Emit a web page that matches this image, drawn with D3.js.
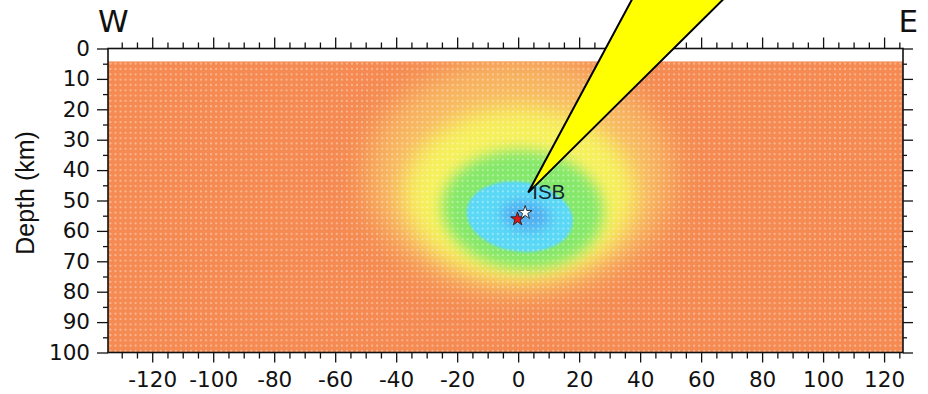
<!DOCTYPE html>
<html>
<head>
<meta charset="utf-8">
<script src="https://cdn.jsdelivr.net/npm/d3@7"></script>
<style>
  html, body { margin: 0; padding: 0; background: #fff; }
  svg { display: block; font-family: "DejaVu Sans", sans-serif; }
</style>
</head>
<body>
<svg id="chart" width="928" height="394"></svg>
<script>
// ---- section extents (km) ----
const distanceExtent = [-134.5, 126.2];
const depthExtent = [0, 100];
const gridTopDepth = 4.2;

// ---- axis ticks ----
const distanceTicks = [-120, -100, -80, -60, -40, -20, 0, 20, 40, 60, 80, 100, 120];
const distanceMinorTicks = [-130, -125, -115, -110, -105, -95, -90, -85, -75, -70, -65, -55, -50, -45,
  -35, -30, -25, -15, -10, -5, 5, 10, 15, 25, 30, 35, 45, 50, 55, 65, 70, 75, 85, 90, 95, 105, 110, 115, 125];
const depthTicks = [0, 10, 20, 30, 40, 50, 60, 70, 80, 90, 100];
const depthMinorTicks = [5, 15, 25, 35, 45, 55, 65, 75, 85, 95];

// ---- misfit surface contours (centre, half-widths in km, tilt in degrees) ----
const levelNames = ["outer", "yellow", "green", "cyan", "core"];
const levelX = [0.5, 0.5, 1.5, 0.5, 2.5];
const levelDepth = [42, 47.5, 53, 55.3, 55];
const levelRadiusX = [50, 38, 26.5, 17.5, 8];
const levelRadiusDepth = [38.5, 28.5, 19.5, 11.5, 5];
const levelTilt = [0, 0, 4, 8, 8];

// ---- grid search nodes ----
const gridStepX = 1.65;
const gridStepDepth = 1.75;

// ---- events and station ----
const eventNames = ["catalogue", "relocated"];
const eventX = [-0.2, 2.3];
const eventDepth = [56.1, 54.0];
const stationName = "ISB";
const stationX = 3.3;
const stationDepth = 47.4;
const beamEdgeX = [39.4, 71.1];
const beamEdgeDepth = [-20, -20];

// ---- styles ----
const fieldBase = "#f58b52";
const levelFill = ["#f8b862", "#f6f05c", "#84e86a", "#5ad8f6", "#4d9ff0"];
const levelOpacity = [1, 1, 1, 1, 0.7];
const levelBlur = [15, 11, 7, 0.8, 6];
const eventFill = ["#e01414", "#ffffff"];

const svg = d3.select("#chart");
const x = d3.scaleLinear().domain(distanceExtent).range([108, 903]);
const y = d3.scaleLinear().domain(depthExtent).range([48.5, 352.5]);

const frameBottom = y(depthExtent[1]), frameTop = y(depthExtent[0]);
const frameLeft = x(distanceExtent[0]), frameRight = x(distanceExtent[1]);

const defs = svg.append("defs");
defs.append("clipPath").attr("id", "field-clip")
  .append("rect")
  .attr("x", frameLeft).attr("y", y(gridTopDepth))
  .attr("width", frameRight - frameLeft)
  .attr("height", frameBottom - y(gridTopDepth));

levelNames.forEach((name, i) => {
  defs.append("filter").attr("id", "blur-" + name)
    .attr("x", "-60%").attr("y", "-60%").attr("width", "220%").attr("height", "220%")
    .append("feGaussianBlur").attr("stdDeviation", levelBlur[i]);
});

// ---- colour field ----
const field = svg.append("g").attr("clip-path", "url(#field-clip)");
field.append("rect")
  .attr("x", frameLeft).attr("y", y(gridTopDepth))
  .attr("width", frameRight - frameLeft)
  .attr("height", frameBottom - y(gridTopDepth))
  .attr("fill", fieldBase);

field.selectAll("ellipse.level")
  .data(levelNames.map((name, i) => ({ name, i })))
  .join("ellipse")
  .attr("class", "level")
  .attr("cx", d => x(levelX[d.i]))
  .attr("cy", d => y(levelDepth[d.i]))
  .attr("rx", d => x(levelX[d.i] + levelRadiusX[d.i]) - x(levelX[d.i]))
  .attr("ry", d => y(levelDepth[d.i] + levelRadiusDepth[d.i]) - y(levelDepth[d.i]))
  .attr("transform", d => `rotate(${levelTilt[d.i]},${x(levelX[d.i])},${y(levelDepth[d.i])})`)
  .attr("fill", d => levelFill[d.i])
  .attr("opacity", d => levelOpacity[d.i])
  .attr("filter", d => `url(#blur-${d.name})`);

// grid nodes drawn as faint light dots
const nodesX = d3.range(distanceExtent[0] + 0.8, distanceExtent[1], gridStepX);
const nodesDepth = d3.range(gridTopDepth + 0.8, depthExtent[1], gridStepDepth);
const nodes = [];
nodesDepth.forEach(dz => nodesX.forEach(dx => nodes.push([dx, dz])));
field.append("g").selectAll("circle")
  .data(nodes)
  .join("circle")
  .attr("cx", d => x(d[0]))
  .attr("cy", d => y(d[1]))
  .attr("r", 1.15)
  .attr("fill", "#fff")
  .attr("opacity", 0.36);

// ---- axes ----
const plainNumber = d => String(d);
function styleAxis(g) {
  g.select(".domain").remove();
  g.selectAll(".tick line").attr("stroke", "#111").attr("stroke-width", 1.3);
  g.selectAll(".tick text").attr("fill", "#111").attr("font-size", "21.5px")
    .attr("font-family", "'DejaVu Sans', sans-serif");
}

svg.append("g").attr("transform", `translate(0,${frameBottom})`)
  .call(d3.axisBottom(x).tickValues(distanceTicks).tickSize(10).tickPadding(9.2).tickFormat(plainNumber))
  .call(styleAxis);
svg.append("g").attr("transform", `translate(0,${frameBottom})`)
  .call(d3.axisBottom(x).tickValues(distanceMinorTicks).tickSize(6).tickFormat(""))
  .call(styleAxis);
svg.append("g").attr("transform", `translate(0,${frameTop})`)
  .call(d3.axisTop(x).tickValues(distanceTicks).tickSize(11).tickFormat(""))
  .call(styleAxis);
svg.append("g").attr("transform", `translate(0,${frameTop})`)
  .call(d3.axisTop(x).tickValues(distanceMinorTicks).tickSize(6).tickFormat(""))
  .call(styleAxis);
svg.append("g").attr("transform", `translate(${frameLeft},0)`)
  .call(d3.axisLeft(y).tickValues(depthTicks).tickSize(11).tickPadding(7).tickFormat(plainNumber))
  .call(styleAxis);
svg.append("g").attr("transform", `translate(${frameLeft},0)`)
  .call(d3.axisLeft(y).tickValues(depthMinorTicks).tickSize(5).tickFormat(""))
  .call(styleAxis);
svg.append("g").attr("transform", `translate(${frameRight},0)`)
  .call(d3.axisRight(y).tickValues(depthTicks).tickSize(10).tickFormat(""))
  .call(styleAxis);
svg.append("g").attr("transform", `translate(${frameRight},0)`)
  .call(d3.axisRight(y).tickValues(depthMinorTicks).tickSize(4).tickFormat(""))
  .call(styleAxis);

// frame
svg.append("rect")
  .attr("x", frameLeft).attr("y", frameTop)
  .attr("width", frameRight - frameLeft).attr("height", frameBottom - frameTop)
  .attr("fill", "none").attr("stroke", "#111").attr("stroke-width", 1.6);

// axis title and direction labels
svg.append("text")
  .attr("transform", `translate(34,${(y(27) + y(68)) / 2}) rotate(-90)`)
  .attr("text-anchor", "middle")
  .attr("font-family", "'Liberation Sans', Arial, sans-serif")
  .attr("font-size", "25px").attr("fill", "#111")
  .text("Depth (km)");
svg.append("text").attr("x", 98).attr("y", 32)
  .attr("font-size", "31px").attr("fill", "#111").text("W");
svg.append("text").attr("x", 918).attr("y", 32).attr("text-anchor", "end")
  .attr("font-size", "31px").attr("fill", "#111").text("E");

// ---- events ----
const star = d3.symbol().type(d3.symbolStar).size(58);
svg.append("g").selectAll("path")
  .data(eventNames.map((name, i) => ({ name, i })))
  .join("path")
  .attr("transform", d => `translate(${x(eventX[d.i])},${y(eventDepth[d.i])})`)
  .attr("d", star)
  .attr("fill", d => eventFill[d.i])
  .attr("stroke", "#222").attr("stroke-width", 0.9);

// ---- station beam ----
const beam = [[stationX, stationDepth], [beamEdgeX[0], beamEdgeDepth[0]], [beamEdgeX[1], beamEdgeDepth[1]]];
svg.append("path")
  .attr("d", d3.line().x(d => x(d[0])).y(d => y(d[1]))(beam) + "Z")
  .attr("fill", "#ffff00")
  .attr("stroke", "#000").attr("stroke-width", 2).attr("stroke-linejoin", "miter");

svg.append("text")
  .attr("x", x(stationX) + 4).attr("y", y(stationDepth) + 6.5)
  .attr("font-family", "'Liberation Sans', Arial, sans-serif")
  .attr("font-size", "20.5px").attr("fill", "#102a30")
  .text(stationName);
</script>
</body>
</html>
